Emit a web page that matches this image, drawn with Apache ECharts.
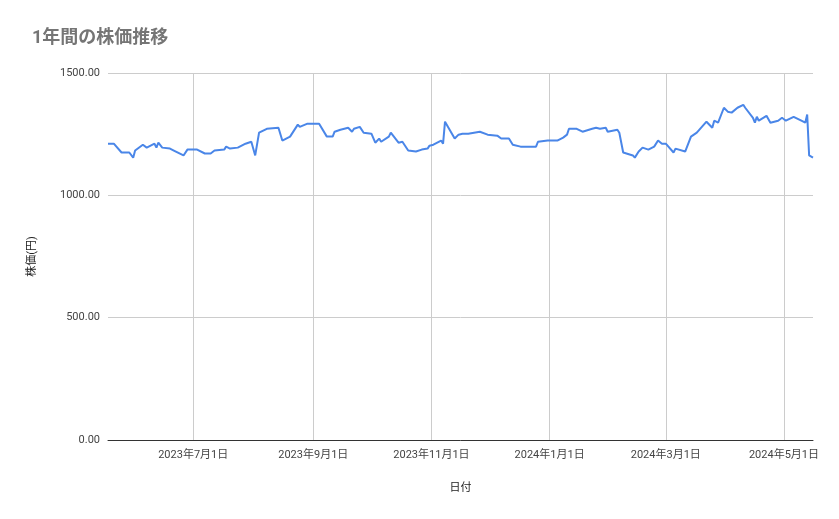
<!DOCTYPE html>
<html>
<head>
<meta charset="utf-8">
<script src="https://cdn.jsdelivr.net/npm/echarts@6/dist/echarts.min.js"></script>
<style>html,body{margin:0;padding:0;background:#fff}#chart{width:839px;height:519px}</style>
</head>
<body>
<div id="chart"></div>
<script>
// 開始日 2023-05-18 からの経過日数
var dayOffsets = [0,3,7,11,13,14,18,20,24,25,26,28,32,34,39,41,42,46,50,53,55,60,61,63,67,71,74,75,76,78,82,83,88,90,94,98,99,103,104,109,113,116,117,120,124,126,127,130,132,136,138,140,141,145,146,150,152,155,159,160,162,165,166,168,172,173,174,179,181,182,183,186,187,189,192,196,201,203,207,208,209,213,214,221,222,227,232,235,237,238,242,243,245,250,252,254,257,258,263,264,266,271,272,274,276,279,282,283,284,286,288,292,293,294,298,301,304,309,312,313,315,318,320,322,325,326,328,329,333,334,335,336,340,342,346,348,350,354,358,360,361,362,364];
var prices = [1211,1211,1175,1175,1154,1183,1207,1195,1211,1195,1215,1195,1191,1183,1163,1187,1179,1187,1171,1171,1183,1187,1199,1191,1195,1211,1219,1211,1163,1256,1272,1276,1276,1224,1240,1289,1280,1293,1285,1293,1240,1240,1260,1268,1276,1260,1272,1280,1256,1252,1215,1232,1219,1240,1256,1215,1219,1183,1179,1171,1187,1191,1203,1207,1224,1211,1301,1232,1248,1240,1252,1252,1260,1256,1260,1248,1244,1232,1232,1236,1207,1199,1203,1199,1219,1224,1224,1236,1248,1272,1272,1280,1260,1272,1276,1272,1276,1260,1268,1256,1175,1163,1154,1179,1195,1187,1199,1203,1224,1211,1211,1175,1191,1183,1179,1240,1256,1301,1276,1305,1297,1358,1342,1338,1358,1362,1370,1358,1317,1297,1321,1305,1325,1297,1305,1317,1305,1321,1305,1297,1330,1163,1154];
// 目盛り(経過日数)とラベル
var tickOffsets = [44, 106, 167, 228, 288, 349];
var tickLabels = ['2023年7月1日', '2023年9月1日', '2023年11月1日', '2024年1月1日', '2024年3月1日', '2024年5月1日'];

var seriesData = [];
for (var i = 0; i < dayOffsets.length; i++) {
    seriesData.push([dayOffsets[i], prices[i]]);
}
var tickLines = [];
for (var j = 0; j < tickOffsets.length; j++) {
    tickLines.push({ xAxis: tickOffsets[j], label: { formatter: tickLabels[j] } });
}

var myChart = echarts.init(document.getElementById('chart'));
var option = {
    animation: false,
    textStyle: { fontFamily: 'Roboto, "Noto Sans CJK JP", sans-serif' },
    title: {
        text: '1年間の株価推移',
        left: 27, top: 25,
        textStyle: { color: '#757575', fontSize: 18, fontWeight: 'bold', fontFamily: 'Roboto, "Noto Sans CJK JP", sans-serif' }
    },
    grid: { left: 108, right: 26, top: 73, bottom: 79 },
    xAxis: {
        type: 'value',
        min: 0, max: 364,
        name: '日付', nameLocation: 'middle', nameGap: 43,
        nameTextStyle: { color: '#222', fontSize: 11 },
        axisLine: { lineStyle: { color: '#333' } },
        axisTick: { show: false },
        axisLabel: { show: false },
        splitLine: { show: false }
    },
    yAxis: {
        type: 'value',
        min: 0, max: 1500, interval: 500,
        name: '株価(円)', nameLocation: 'middle', nameGap: 70, nameRotate: 90,
        nameTextStyle: { color: '#222', fontSize: 11 },
        axisLine: { show: false },
        axisTick: { show: false },
        axisLabel: { color: '#444', fontSize: 11, formatter: function (v) { return v.toFixed(2); } },
        splitLine: { lineStyle: { color: '#ccc' } }
    },
    series: [{
        type: 'line',
        data: seriesData,
        showSymbol: false,
        lineStyle: { color: '#4a86e8', width: 2 },
        itemStyle: { color: '#4a86e8' },
        markLine: {
            silent: true,
            symbol: ['none', 'none'],
            lineStyle: { color: '#ccc', type: 'solid', width: 1 },
            label: { position: 'start', distance: 10, color: '#444', fontSize: 11 },
            data: tickLines,
            z: 1
        }
    }]
};
myChart.setOption(option);
</script>
</body>
</html>
